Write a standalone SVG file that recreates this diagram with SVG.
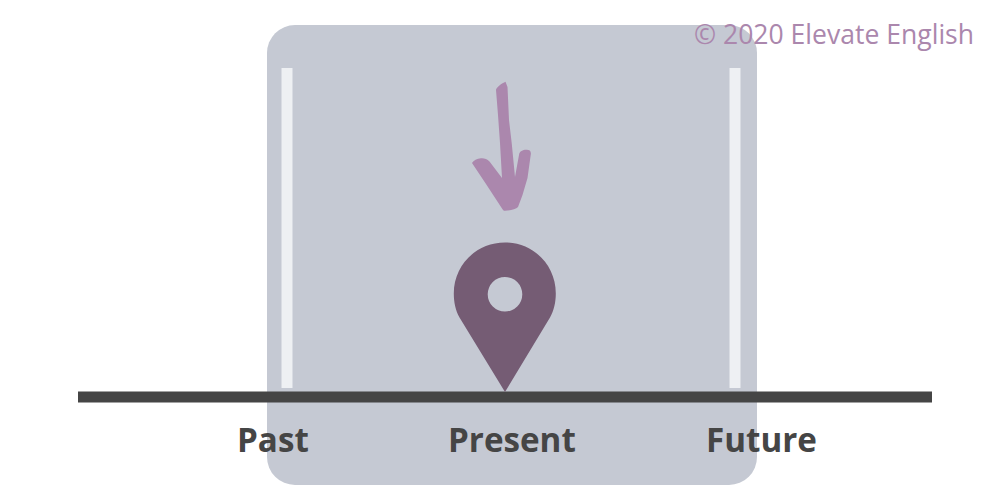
<svg xmlns="http://www.w3.org/2000/svg" width="1000" height="500" viewBox="0 0 1000 500">
<style>
.label{font-family:"Open Sans","Liberation Sans",sans-serif;font-weight:700;font-size:33.200px;fill:#454545}
.bar{fill:#eef0f3}
</style>
<rect width="1000" height="500" fill="#fff"/>
<g id="present-window">
<rect x="267" y="25" width="490" height="460" rx="28" fill="#c5c9d3"/>
<rect class="bar" x="281.500" y="68" width="11" height="320"/>
<rect class="bar" x="729.500" y="68" width="11" height="320"/>
</g>
<g id="timeline"><rect x="78" y="391.500" width="854" height="11" fill="#454545"/></g>
<g id="pin">
<path fill-rule="evenodd" fill="#755c74" d="M505 392L459.500 317.500C455.500 310.500 453.800 302 453.800 293.500C453.800 265 476.500 242.500 505 242.500C533.500 242.500 555.800 265 555.800 293.500C555.800 302 554 310.500 550 317.500ZM505 277A17.300 17.300 0 1 0 505 311.600A17.300 17.300 0 1 0 505 277Z"/>
</g>
<g id="arrow">
<path fill="#ab87ad" d="M505.500 81.700L507.500 87L509 120L511.700 143L515 177L519 155C519.500 151 523 150 526 149.800C529.500 149.500 531.500 151 530.700 155L527.500 178L522.500 195L518 207C516 209.500 510 210.500 505 210.800C503.500 210.800 503 210 502 208.500L486 184L472 163C473.500 160.500 477 158.500 481 158.300C484 158 487 159 489.500 161.500L502 178L500 143L498 115L496 90C496 87.500 502 83 505.500 81.700Z"/>
</g>
<g id="label-past"><text class="label" x="237" y="452">Past</text></g>
<g id="label-present"><text class="label" x="448" y="452">Present</text></g>
<g id="label-future"><text class="label" x="706" y="452">Future</text></g>
<g id="copyright"><text x="694" y="44" font-family="'Open Sans','Liberation Sans',sans-serif" font-size="26.550" fill="#ab87ad">© 2020 Elevate English</text></g>
</svg>
